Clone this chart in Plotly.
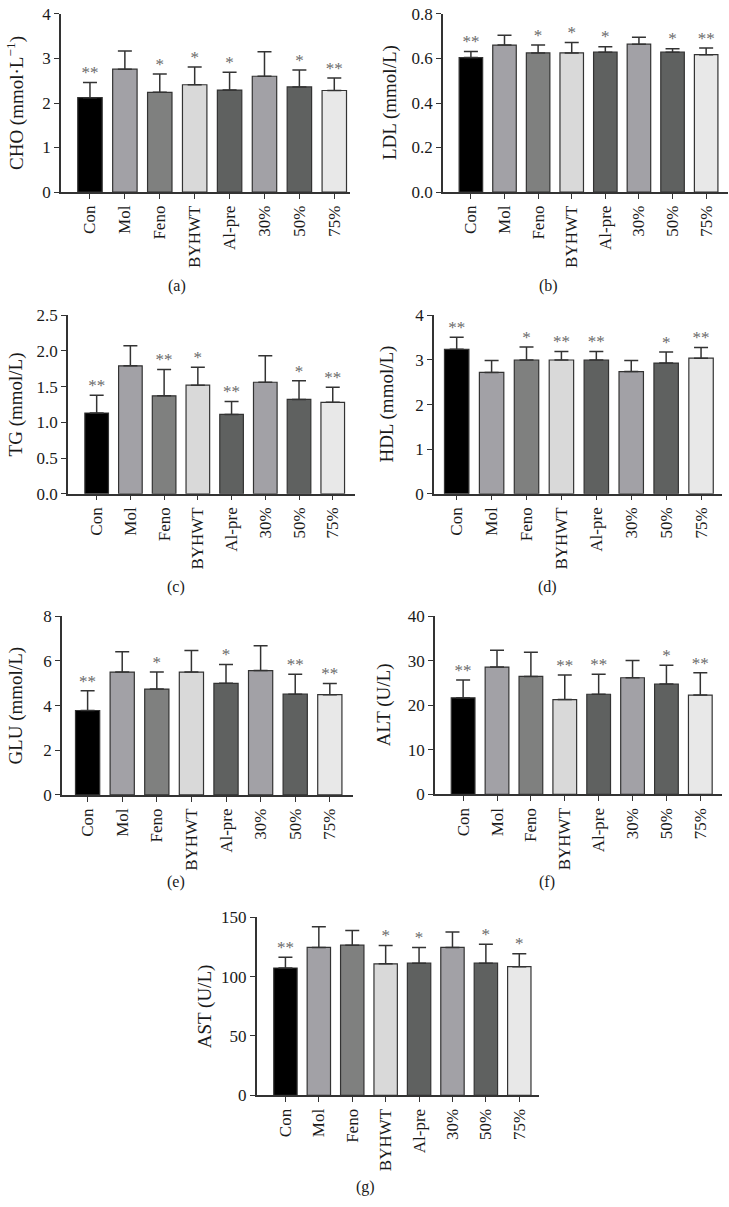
import plotly.graph_objects as go

W, H = 729, 1207

groups = ["Con", "Mol", "Feno", "BYHWT", "Al-pre", "30%", "50%", "75%"]
bar_colors = ["#000000", "#a2a1a6", "#7f807f", "#d9d9d9", "#5f6160", "#a2a1a6", "#5f6160", "#e8e8e8"]

cho_mean = [2.12, 2.76, 2.24, 2.41, 2.29, 2.60, 2.36, 2.28]
cho_sd = [0.34, 0.41, 0.41, 0.40, 0.40, 0.55, 0.38, 0.28]
cho_sig = ["**", "", "*", "*", "*", "", "*", "**"]

ldl_mean = [0.604, 0.660, 0.625, 0.625, 0.628, 0.664, 0.628, 0.617]
ldl_sd = [0.027, 0.044, 0.035, 0.047, 0.025, 0.031, 0.016, 0.030]
ldl_sig = ["**", "", "*", "*", "*", "", "*", "**"]

tg_mean = [1.13, 1.79, 1.37, 1.52, 1.11, 1.56, 1.32, 1.28]
tg_sd = [0.25, 0.28, 0.37, 0.25, 0.18, 0.37, 0.26, 0.21]
tg_sig = ["**", "", "**", "*", "**", "", "*", "**"]

hdl_mean = [3.24, 2.72, 3.00, 3.00, 3.00, 2.74, 2.93, 3.04]
hdl_sd = [0.27, 0.27, 0.29, 0.19, 0.19, 0.25, 0.25, 0.24]
hdl_sig = ["**", "", "*", "**", "**", "", "*", "**"]

glu_mean = [3.78, 5.50, 4.74, 5.50, 5.00, 5.57, 4.51, 4.49]
glu_sd = [0.88, 0.91, 0.77, 0.97, 0.84, 1.11, 0.89, 0.50]
glu_sig = ["**", "", "*", "", "*", "", "**", "**"]

alt_mean = [21.7, 28.6, 26.5, 21.3, 22.5, 26.2, 24.8, 22.3]
alt_sd = [4.0, 3.8, 5.4, 5.5, 4.5, 3.9, 4.2, 5.0]
alt_sig = ["**", "", "", "**", "**", "", "*", "**"]

ast_mean = [107.2, 124.5, 126.4, 110.7, 111.3, 124.5, 111.3, 108.3]
ast_sd = [9.1, 17.4, 12.4, 15.5, 13.2, 13.0, 16.0, 11.0]
ast_sig = ["**", "", "", "*", "*", "", "*", "*"]

y_titles = ["CHO (mmol·L<sup>−1</sup>)", "LDL (mmol/L)", "TG (mmol/L)", "HDL (mmol/L)",
            "GLU (mmol/L)", "ALT (U/L)", "AST (U/L)"]
panel_letters = ["(a)", "(b)", "(c)", "(d)", "(e)", "(f)", "(g)"]
y_ranges = [[0, 4], [0, 0.8], [0, 2.5], [0, 4], [0, 8], [0, 40], [0, 150]]
y_dticks = [1, 0.2, 0.5, 1, 2, 10, 50]
y_tickformats = ["d", ".1f", ".1f", "d", "d", "d", "d"]

panels = [
    (cho_mean, cho_sd, cho_sig),
    (ldl_mean, ldl_sd, ldl_sig),
    (tg_mean, tg_sd, tg_sig),
    (hdl_mean, hdl_sd, hdl_sig),
    (glu_mean, glu_sd, glu_sig),
    (alt_mean, alt_sd, alt_sig),
    (ast_mean, ast_sd, ast_sig),
]

# layout geometry in pixels
geom = [
    dict(px=(61, 350), py=(5, 186), xr=(-0.83, 7.45), tx=16, lx=177, ly=281),
    dict(px=(443, 728), py=(5, 186), xr=(-0.83, 7.65), tx=390, lx=548, ly=281),
    dict(px=(68, 355), py=(311, 492.5), xr=(-0.85, 7.66), tx=16, lx=176, ly=587),
    dict(px=(434, 722), py=(311.3, 492.5), xr=(-0.65, 7.60), tx=387, lx=547, ly=587),
    dict(px=(62, 353), py=(617, 798.5), xr=(-0.74, 7.67), tx=16, lx=176, ly=887),
    dict(px=(435, 722), py=(617, 798), xr=(-0.83, 7.64), tx=384, lx=547, ly=887),
    dict(px=(256.7, 539), py=(922.7, 1103.7), xr=(-0.86, 7.59), tx=205, lx=365, ly=1197),
]

FONT = "Liberation Serif, Times New Roman, serif"
AX = "#333333"
TXT = "#1a1a1a"

fig = go.Figure()
layout = dict(
    width=W, height=H, margin=dict(l=0, r=0, t=0, b=0),
    paper_bgcolor="white", plot_bgcolor="white", showlegend=False,
    font=dict(family=FONT, size=17, color=TXT),
)
annotations = []

for i, ((mean, sd, sig), g) in enumerate(zip(panels, geom)):
    n = "" if i == 0 else str(i + 1)
    xa, ya = "x" + n, "y" + n
    fig.add_trace(go.Bar(
        x=list(range(len(groups))), y=mean, width=0.7,
        marker=dict(color=bar_colors, line=dict(color=AX, width=1.2)),
        error_y=dict(type="data", array=sd, arrayminus=[0] * len(sd), symmetric=False,
                     color=AX, thickness=1.5, width=7),
        xaxis=xa, yaxis=ya, hoverinfo="skip",
    ))
    idx = [k for k, s in enumerate(sig) if s]
    fig.add_trace(go.Scatter(
        x=idx, y=[mean[k] + sd[k] for k in idx], mode="text",
        text=[sig[k] for k in idx], textposition="top center",
        textfont=dict(family=FONT, size=17, color="#6a6a6a"),
        xaxis=xa, yaxis=ya, hoverinfo="skip", cliponaxis=False,
    ))
    x0, x1 = g["px"]
    yt, yb = g["py"]
    layout["xaxis" + n] = dict(
        domain=[x0 / W, x1 / W], range=list(g["xr"]), anchor=ya,
        tickmode="array", tickvals=list(range(len(groups))), ticktext=groups,
        tickangle=-90, ticks="outside", ticklen=5, tickwidth=1.2, tickcolor=AX,
        showline=True, linecolor=AX, linewidth=1.5, showgrid=False, zeroline=False,
        tickfont=dict(family=FONT, size=17, color=TXT),
    )
    layout["yaxis" + n] = dict(
        domain=[1 - yb / H, 1 - yt / H], range=y_ranges[i], anchor=xa,
        dtick=y_dticks[i], tickformat=y_tickformats[i],
        ticks="outside", ticklen=5, tickwidth=1.2, tickcolor=AX,
        showline=True, linecolor=AX, linewidth=1.5, showgrid=False, zeroline=False,
        tickfont=dict(family=FONT, size=17, color=TXT),
    )
    annotations.append(dict(
        text=y_titles[i], textangle=-90, xref="paper", yref="paper",
        x=g["tx"] / W, y=1 - (yt + yb) / 2 / H, showarrow=False,
        font=dict(family=FONT, size=19, color=TXT),
        xanchor="center", yanchor="middle",
    ))
    annotations.append(dict(
        text=panel_letters[i], xref="paper", yref="paper",
        x=g["lx"] / W, y=1 - g["ly"] / H, showarrow=False,
        font=dict(family=FONT, size=16, color=TXT),
        xanchor="center", yanchor="middle",
    ))

layout["annotations"] = annotations
fig.update_layout(**layout)
fig.write_html("out.html")
